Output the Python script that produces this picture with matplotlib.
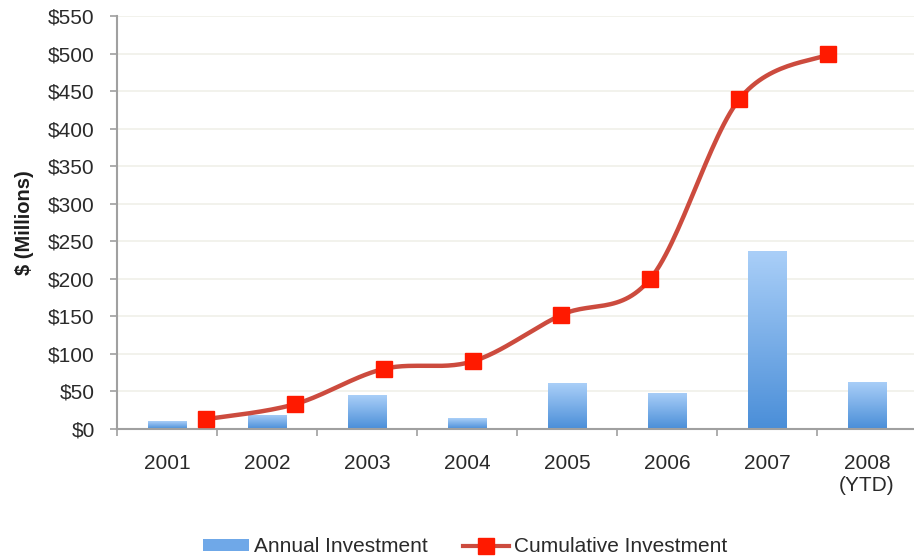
import numpy as np
import matplotlib.pyplot as plt
from matplotlib.colors import LinearSegmentedColormap
from matplotlib.lines import Line2D
from matplotlib.patches import Patch

plt.rcParams["font.family"] = ["Liberation Sans", "DejaVu Sans"]

years = ["2001", "2002", "2003", "2004", "2005", "2006", "2007", "2008\n(YTD)"]
annual = [10, 19, 45, 14, 61, 48, 237, 63]
cumulative = [13, 33, 80, 90, 152, 200, 439, 499]

yticks = list(range(0, 551, 50))
ytick_labels = [f"${v}" for v in yticks]

text_color = "#2a2a2a"
axis_color = "#a0a0a0"
line_color = "#cc4b3e"
marker_color = "#ff1a00"
bar_cmap = LinearSegmentedColormap.from_list("bar", ["#4a8ed8", "#aacff8"])


def smooth_curve(xs, ys, steps=30):
    # Catmull-Rom spline through the points, similar to a "smoothed line"
    pts = np.column_stack([xs, ys]).astype(float)
    pts = np.vstack([pts[0], pts, pts[-1]])
    out = []
    for i in range(1, len(pts) - 2):
        p0, p1, p2, p3 = pts[i - 1], pts[i], pts[i + 1], pts[i + 2]
        t = np.linspace(0, 1, steps)[:, None]
        seg = 0.5 * ((2 * p1) + (-p0 + p2) * t
                     + (2 * p0 - 5 * p1 + 4 * p2 - p3) * t ** 2
                     + (-p0 + 3 * p1 - 3 * p2 + p3) * t ** 3)
        out.append(seg)
    out = np.vstack(out)
    return out[:, 0], out[:, 1]


fig = plt.figure(figsize=(9.14, 5.57), dpi=100)
ax = fig.add_axes([117 / 914, 128 / 557, 800 / 914, 413 / 557])

x = np.arange(len(years))
bars = ax.bar(x, annual, width=0.39, color="#6fa8e8", zorder=2)

# vertical gradient fill on each bar
grad = np.linspace(0, 1, 256).reshape(-1, 1)
for b in bars:
    x0, y0, w, h = b.get_x(), b.get_y(), b.get_width(), b.get_height()
    im = ax.imshow(grad, cmap=bar_cmap, origin="lower", aspect="auto",
                   extent=(x0, x0 + w, y0, y0 + h), zorder=2.1)
    im.set_clip_path(b)

ax.set_xlim(-0.5, len(years) - 0.5)
ax.set_ylim(0, 550)
ax.set_yticks(yticks)
ax.set_yticklabels(ytick_labels)
ax.set_xticks(x)
ax.set_xticklabels(years)
ax.set_xticks(np.arange(-0.5, len(years), 1.0), minor=True)

ax.tick_params(axis="y", direction="out", length=5, width=1.2, color=axis_color,
               labelsize=15, labelcolor=text_color, pad=11)
ax.tick_params(axis="x", which="major", length=0, labelsize=15,
               labelcolor=text_color, pad=18)
ax.tick_params(axis="x", which="minor", direction="out", length=5, width=1.2,
               color=axis_color)

for side in ["top", "right"]:
    ax.spines[side].set_visible(False)
for side in ["left", "bottom"]:
    ax.spines[side].set_color(axis_color)
    ax.spines[side].set_linewidth(1.5)

ax.yaxis.grid(True, color="#f1f1ea", linewidth=1.3, zorder=0)
ax.set_axisbelow(True)

ax.set_ylabel("$ (Millions)", fontsize=14.5, fontweight="bold", color="#1e1e1e",
              labelpad=10)

# cumulative line sits on its own category axis, offset from the bars
ax2 = ax.twiny()
ax2.set_xlim(-1, len(years))
ax2.axis("off")
lx, ly = smooth_curve(np.arange(len(cumulative)), cumulative)
ax2.plot(lx, ly, color=line_color, linewidth=3.2, zorder=3)
ax2.plot(np.arange(len(cumulative)), cumulative, linestyle="none", marker="s",
         markersize=11, color=marker_color, zorder=4)

handles = [
    Patch(facecolor="#6fa8e8", edgecolor="none"),
    Line2D([0], [0], color=line_color, linewidth=3, marker="s", markersize=11,
           markerfacecolor=marker_color, markeredgecolor=marker_color),
]
fig.legend(handles, ["Annual Investment", "Cumulative Investment"],
           loc="center", bbox_to_anchor=(465 / 914, 10 / 557), ncol=2,
           frameon=False, fontsize=15, handlelength=2.2, handleheight=0.45,
           handletextpad=0.25, columnspacing=1.7, labelcolor=text_color)

fig.savefig("out.png", dpi=100)
